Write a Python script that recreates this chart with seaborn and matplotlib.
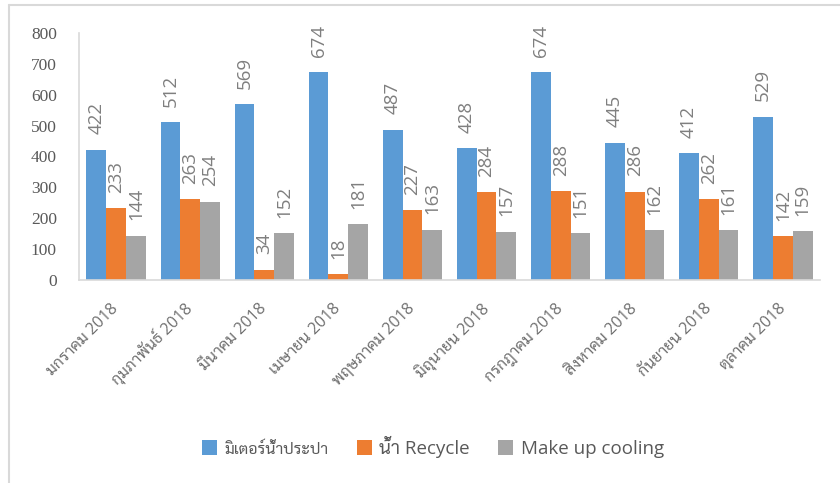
import numpy as np
import pandas as pd
import matplotlib
matplotlib.use("Agg")
import matplotlib.pyplot as plt
import seaborn as sns

months = ["มกราคม 2018", "กุมภาพันธ์ 2018", "มีนาคม 2018", "เมษายน 2018",
          "พฤษภาคม 2018", "มิถุนายน 2018", "กรกฎาคม 2018", "สิงหาคม 2018",
          "กันยายน 2018", "ตุลาคม 2018"]
series_names = ["มิเตอร์น้ำประปา", "น้ำ Recycle", "Make up cooling"]
tap_water = [422, 512, 569, 674, 487, 428, 674, 445, 412, 529]
recycle_water = [233, 263, 34, 18, 227, 284, 288, 286, 262, 142]
cooling_water = [144, 254, 152, 181, 163, 157, 151, 162, 161, 159]
yticks = [0, 100, 200, 300, 400, 500, 600, 700, 800]

colors = ["#5B9BD5", "#ED7D31", "#A5A5A5"]
txt = "#595959"
line = "#D9D9D9"

sns.set_style("white")
thai = ["Open Sans", "Sarabun", "Noto Sans Thai", "Anuphan", "DejaVu Sans"]
plt.rcParams["font.family"] = thai

df = pd.DataFrame({
    "month": months * 3,
    "series": np.repeat(series_names, len(months)),
    "value": tap_water + recycle_water + cooling_water,
})

fig = plt.figure(figsize=(8.4, 4.83), dpi=100)
ax = fig.add_axes([79/840, 1-280/483, 741/840, 247/483])

sns.barplot(data=df, x="month", y="value", hue="series", order=months,
            hue_order=series_names, palette=colors, width=0.8,
            saturation=1, linewidth=0, ax=ax)

for cont in ax.containers:
    ax.bar_label(cont, rotation=90, padding=11, color="#7F7F7F",
                 fontsize=13.5, family=thai)

ax.set_ylim(0, 800)
ax.set_yticks(yticks)
ax.set_yticklabels([str(v) for v in yticks])
ax.tick_params(axis="y", length=0, pad=16, labelsize=12.5, labelcolor=txt,
               labelfontfamily="Liberation Serif")
ax.tick_params(axis="x", length=0, pad=19, labelsize=11.5,
               labelcolor="#6F6F6F", labelrotation=45)
for lab in ax.get_xticklabels():
    lab.set_ha("right")
    lab.set_va("center")
    lab.set_rotation_mode("anchor")

ax.set_xlabel("")
ax.set_ylabel("")
sns.despine(ax=ax)
for s in ["left", "bottom"]:
    ax.spines[s].set_color(line)
    ax.spines[s].set_linewidth(1.2)

handles, labels = ax.get_legend_handles_labels()
ax.get_legend().remove()
leg = fig.legend(handles, labels, loc="center",
                 bbox_to_anchor=(433/840, 1-447/483), ncol=3, frameon=False,
                 fontsize=13.5, handlelength=0.8, handleheight=0.8,
                 handletextpad=0.4, columnspacing=1.5, labelcolor=txt)
leg.get_texts()[0].set_fontsize(11.5)

# chart border (left and top edges visible)
fig.add_artist(plt.Line2D([8.5/840, 8.5/840], [0, 1-5/483], color=line,
                          lw=1.5, transform=fig.transFigure))
fig.add_artist(plt.Line2D([8.5/840, 1], [1-5/483, 1-5/483], color=line,
                          lw=1.5, transform=fig.transFigure))

fig.savefig("out.png", dpi=100)
